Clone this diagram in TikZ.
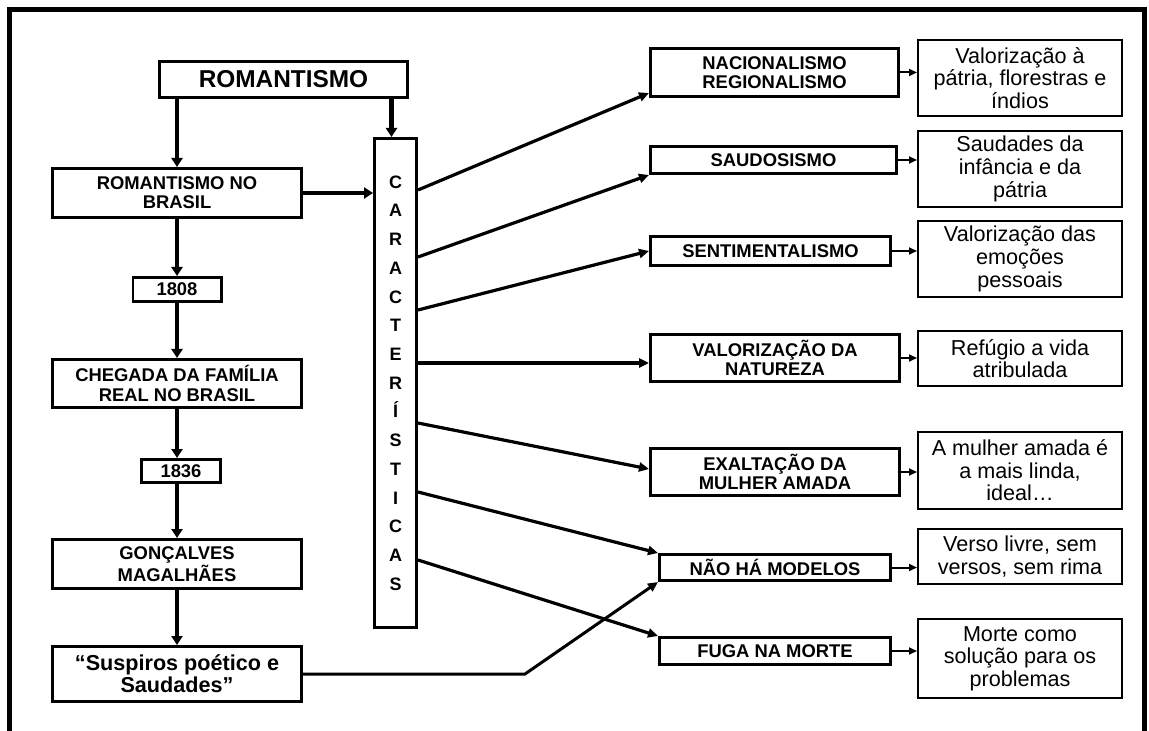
\documentclass[tikz,border=0pt]{standalone}
\usepackage{fontspec}
\setmainfont{Liberation Sans}
\usetikzlibrary{arrows.meta,positioning}

\tikzset{
  lbox/.style={draw, line width=1.4pt, align=center, inner sep=0pt,
    font=\bfseries\fontsize{9.2}{9.6}\selectfont},
  rbox/.style={draw, line width=1pt, align=center, inner sep=0pt,
    minimum width=102pt, font=\fontsize{10.8}{11.3}\selectfont},
  bigarr/.style={-{Triangle[length=4.5pt,width=5.5pt]}, line width=2.2pt},
  diagarr/.style={-{Triangle[length=5pt,width=4.5pt]}, line width=1.6pt},
  smallarr/.style={-{Triangle[length=4pt,width=3.5pt]}, line width=1pt},
}

\begin{document}
\begin{tikzpicture}[x=0.5pt,y=-0.5pt]
  \useasboundingbox (0,0) rectangle (1149,731);
  % frame, open at the bottom
  \draw[line width=2.5pt] (9.5,731) -- (9.5,9.5) -- (1144.5,9.5) -- (1144.5,731);

  % left column
  \node[lbox, minimum width=124.1pt, minimum height=18.1pt,
    font=\bfseries\fontsize{12.2}{13}\selectfont] (rom) at (283.5,79.5) {ROMANTISMO};
  \node[lbox, minimum width=124.6pt, minimum height=24.6pt] (rb) at (177,193) {ROMANTISMO NO\\BRASIL};
  \node[lbox, minimum width=44.1pt, minimum height=12.1pt] (y1808)
    [node distance=48.25pt, below of=rb] {1808};
  \node[lbox, minimum width=124.6pt, minimum height=24.1pt] (chegada)
    [node distance=47pt, below of=y1808] {CHEGADA DA FAMÍLIA\\REAL NO BRASIL};
  \node[lbox, minimum width=39.6pt, minimum height=11.6pt] (y1836)
    [node distance=43.75pt, below of=chegada, xshift=2pt] {1836};
  \node[lbox, minimum width=124.6pt, minimum height=24.6pt] (goncalves)
    [node distance=90.25pt, below of=chegada] {GONÇALVES\\MAGALHÃES};
  \node[lbox, minimum width=124.6pt, minimum height=27.6pt,
    font=\bfseries\fontsize{10.8}{11}\selectfont] (suspiros)
    [node distance=55pt, below of=goncalves] {“Suspiros poético e\\Saudades”};

  \node[lbox, minimum width=21.1pt, minimum height=244.6pt,
    font=\bfseries\fontsize{9}{14.35}\selectfont] (car) at (395.5,383)
    {C\\A\\R\\A\\C\\T\\E\\R\\Í\\S\\T\\I\\C\\A\\S};

  % middle column
  \node[lbox, minimum width=124.1pt, minimum height=24.1pt] (nac) at (774.5,72.5) {NACIONALISMO\\REGIONALISMO};
  \node[lbox, minimum width=123.1pt, minimum height=13.6pt] (sau) at (773.5,160) {SAUDOSISMO};
  \node[lbox, minimum width=120.1pt, minimum height=14.6pt] (sen) at (770.5,251) {SENTIMENTALISMO};
  \node[lbox, minimum width=124.6pt, minimum height=23.6pt] (val) at (775,358) {VALORIZAÇÃO DA\\NATUREZA};
  \node[lbox, minimum width=124.6pt, minimum height=23.6pt] (exa) at (775,472) {EXALTAÇÃO DA\\MULHER AMADA};
  \node[lbox, minimum width=115.6pt, minimum height=13.1pt] (nao) at (775,567.5) {NÃO HÁ MODELOS};
  \node[lbox, minimum width=115.6pt, minimum height=13.6pt] (fug) at (775,651) {FUGA NA MORTE};

  % right column
  \node[rbox, minimum height=38pt] (r1) at (1020,78) {Valorização à\\pátria, florestras e\\índios};
  \node[rbox, minimum height=38pt] (r2) at (1020,169) {Saudades da\\infância e da\\pátria};
  \node[rbox, minimum height=38pt] (r3) at (1020,259) {Valorização das\\emoções\\pessoais};
  \node[rbox, minimum height=27.5pt] (r4) at (1020,358.5) {Refúgio a vida\\atribulada};
  \node[rbox, minimum height=38.5pt] (r5) at (1020,470.5) {A mulher amada é\\a mais linda,\\ideal…};
  \node[rbox, minimum height=27.5pt] (r6) at (1020,556.5) {Verso livre, sem\\versos, sem rima};
  \node[rbox, minimum height=39.5pt] (r7) at (1020,658.5) {Morte como\\solução para os\\problemas};

  \coordinate (k1) at (car.east |- 0,190);
  \coordinate (k2) at (car.east |- 0,257);
  \coordinate (k3) at (car.east |- 0,310);
  \coordinate (k4) at (car.east |- 0,363);
  \coordinate (k5) at (car.east |- 0,423);
  \coordinate (k6) at (car.east |- 0,492);
  \coordinate (k7) at (car.east |- 0,560);
  \coordinate (bend) at (525,674);

  % arrows
  \draw[bigarr] (rb.north |- rom.south) -- (rb.north);
  \draw[bigarr] ([xshift=-2pt]car.north |- rom.south) -- ([xshift=-2pt]car.north);
  \draw[bigarr] (rb.east) -- (rb.east -| car.west);
  \draw[bigarr] (rb) -- (y1808);
  \draw[bigarr] (y1808) -- (chegada);
  \draw[bigarr] (chegada.south) -- (chegada.south |- y1836.north);
  \draw[bigarr] (y1836.south -| goncalves.north) -- (goncalves.north);
  \draw[bigarr] (goncalves) -- (suspiros);

  \draw[diagarr] (k1) -- ([yshift=2.5pt]nac.south west);
  \draw[diagarr] (k2) -- (sau.south west);
  \draw[diagarr] (k3) -- (sen.west);
  \draw[diagarr] (k4) -- (k4 -| val.west);
  \draw[diagarr] (k5) -- ([yshift=1.5pt]exa.west);
  \draw[diagarr] (k6) -- (nao.north west);
  \draw[diagarr] (k7) -- (fug.north west);
  \draw[diagarr, line width=1.5pt] (suspiros.east) -- (bend) -- (nao.south west);

  \foreach \m/\r in {nac/r1, sau/r2, sen/r3, val/r4, exa/r5, nao/r6, fug/r7}
    \draw[smallarr] (\m.east) -- (\m.east -| \r.west);
\end{tikzpicture}
\end{document}
